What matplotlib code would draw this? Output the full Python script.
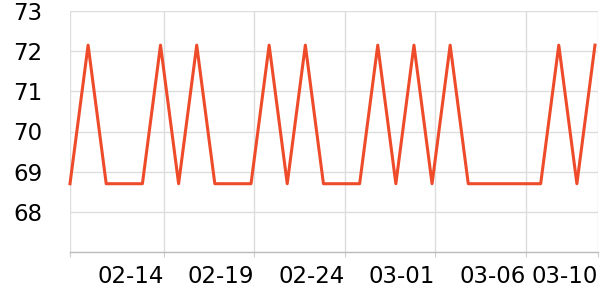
import numpy as np
import pandas as pd
import matplotlib
matplotlib.use("Agg")
from matplotlib import pyplot as plt

# daily readings (timestamps in the evening)
dates = pd.date_range("2023-02-08 20:00", periods=30, freq="D")
values = [68.7, 72.15, 68.7, 68.7, 68.7, 72.15, 68.7, 72.15, 68.7, 68.7,
          68.7, 72.15, 68.7, 72.15, 68.7, 68.7, 68.7, 72.15, 68.7, 72.15,
          68.7, 72.15, 68.7, 68.7, 68.7, 68.7, 68.7, 72.15, 68.7, 72.15]
tick_dates = pd.to_datetime(["2023-02-14", "2023-02-19", "2023-02-24",
                             "2023-03-01", "2023-03-06", "2023-03-10"])
y_ticks = [68, 69, 70, 71, 72, 73]

fig = plt.figure(figsize=(6, 3), dpi=100)
ax = fig.add_axes([70 / 600, 48 / 300, 528 / 600, 241 / 300])

ax.plot(dates, values, color="#ee4b2b", lw=2.2, zorder=3, clip_on=False)

ax.set_ylim(67, 73)
ax.set_yticks(y_ticks)
ax.set_xlim(dates[0], pd.Timestamp("2023-03-10"))
ax.set_xticks([dates[0]] + list(tick_dates))
ax.set_xticklabels([""] + [d.strftime("%m-%d") for d in tick_dates],
                   ha="right")

ax.grid(True, color="#dddddd", lw=1)
ax.set_axisbelow(True)
for s in ["top", "right", "left"]:
    ax.spines[s].set_visible(False)
ax.spines["bottom"].set_color("#bbbbbb")
ax.spines["bottom"].set_linewidth(1)

ax.tick_params(axis="y", length=0, pad=20, labelsize=16.5)
ax.tick_params(axis="x", length=3.5, color="#cccccc", pad=6, labelsize=16.5)

fig.savefig("out.png", dpi=100)
